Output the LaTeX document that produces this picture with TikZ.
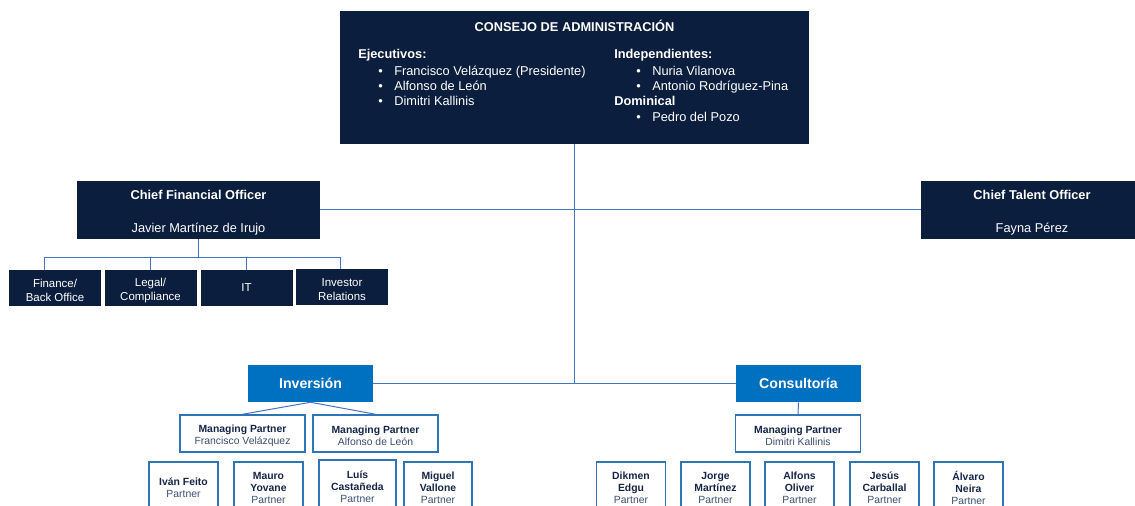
\documentclass[tikz,border=0pt]{standalone}
\usepackage{fontspec}
\setmainfont{Liberation Sans}
\usepackage{tikz}
\definecolor{navy}{RGB}{12,30,61}
\definecolor{azul}{RGB}{0,112,192}
\definecolor{marco}{RGB}{46,117,182}
\definecolor{linea}{RGB}{68,114,196}
\definecolor{tinta}{RGB}{22,37,72}
\definecolor{gris}{RGB}{60,78,112}
\newdimen\pxu \pxu=0.75pt
\newcommand{\bul}{\makebox[12pt][l]{\textbullet}}

\begin{document}
\begin{tikzpicture}[x=0.75pt,y=-0.75pt]
	\tikzstyle{navybox}=[fill=navy,text=white,inner sep=0pt,align=center,font=\fontsize{9.6}{11.5}\selectfont]
	\tikzstyle{boardtxt}=[text=white,inner sep=0pt,anchor=base west,font=\fontsize{9.6}{11.5}\selectfont]
	\tikzstyle{areabox}=[navybox,minimum width=92\pxu,minimum height=36\pxu,font=\fontsize{8.6}{10.8}\selectfont]
	\tikzstyle{unitbox}=[fill=azul,text=white,inner sep=0pt,minimum width=125\pxu,minimum height=37\pxu,font=\bfseries\fontsize{10.6}{12}\selectfont]
	\tikzstyle{mpbox}=[draw=marco,line width=1.1pt,fill=white,text=tinta,align=center,inner sep=0pt,minimum width=125\pxu,minimum height=37\pxu,font=\fontsize{7.8}{9}\selectfont]
	\tikzstyle{partbox}=[mpbox,minimum width=69\pxu,minimum height=52\pxu]
	\tikzstyle{link}=[draw=linea,line width=0.75pt]
	\useasboundingbox (0,0) rectangle (1135,506);
	\clip (0,0) rectangle (1135,506);
	% consejo
	\node[navybox,minimum width=469\pxu,minimum height=133\pxu] (board) at (574.5,77.5) {};
	\node[boardtxt,anchor=base,font=\bfseries\fontsize{9.6}{11.5}\selectfont] (titulo) at (574.5,31.5) {CONSEJO DE ADMINISTRACIÓN};
	\node[boardtxt,font=\bfseries\fontsize{9.6}{11.5}\selectfont] (ejec) at (358,59) {Ejecutivos:};
	\node[boardtxt] (ej1) at (378,76) {\bul Francisco Velázquez (Presidente)};
	\node[boardtxt] (ej2) at (378,91) {\bul Alfonso de León};
	\node[boardtxt] (ej3) at (378,106) {\bul Dimitri Kallinis};
	\node[boardtxt,font=\bfseries\fontsize{9.6}{11.5}\selectfont] (indep) at (614,59) {Independientes:};
	\node[boardtxt] (in1) at (636,76) {\bul Nuria Vilanova};
	\node[boardtxt] (in2) at (636,91) {\bul Antonio Rodríguez-Pina};
	\node[boardtxt,font=\bfseries\fontsize{9.6}{11.5}\selectfont] (domin) at (614,106) {Dominical};
	\node[boardtxt] (do1) at (636,122) {\bul Pedro del Pozo};
	% direcciones
	\node[navybox,minimum width=243\pxu,minimum height=58\pxu] (cfo) at (198.5,210) {};
	\node[boardtxt,anchor=base,font=\bfseries\fontsize{9.6}{11.5}\selectfont] (cfotit) at (198.5,199.5) {Chief Financial Officer};
	\node[boardtxt,anchor=base] (cfonom) at (198.5,232) {Javier Martínez de Irujo};
	\node[navybox,minimum width=222\pxu,minimum height=58\pxu] (cto) at (1032,210) {};
	\node[boardtxt,anchor=base,font=\bfseries\fontsize{9.6}{11.5}\selectfont] (ctotit) at (1032,199.5) {Chief Talent Officer};
	\node[boardtxt,anchor=base] (ctonom) at (1032,232) {Fayna Pérez};
	\node[areabox] (finance) at (55,288) {\rule{0pt}{10pt}Finance/\\Back Office};
	\node[areabox] (legal) at (150.5,288) {\rule{0pt}{10pt}Legal/\\Compliance};
	\node[areabox] (it) at (246.5,288) {IT};
	\node[areabox] (investor) at (342,287) {\rule{0pt}{10pt}Investor\\Relations};
	% unidades
	\node[unitbox] (inversion) at (310.5,383.5) {Inversión};
	\node[unitbox] (consultoria) at (798.5,383.5) {Consultoría};
	\node[mpbox] (mpfv) at (242.5,433.5) {\rule{0pt}{8.5pt}\textbf{Managing Partner}\\\textcolor{gris}{Francisco Velázquez}};
	\node[mpbox] (mpal) at (375.5,433.5) {\rule{0pt}{8.5pt}\textbf{Managing Partner}\\\textcolor{gris}{Alfonso de León}};
	\node[mpbox] (mpdk) at (798,433.5) {\rule{0pt}{8.5pt}\textbf{Managing Partner}\\\textcolor{gris}{Dimitri Kallinis}};
	\node[partbox] (pif) at (183.5,488) {\textbf{Iván Feito}\\\textcolor{gris}{Partner}};
	\node[partbox] (pmy) at (268.5,488) {\textbf{Mauro}\\\textbf{Yovane}\\\textcolor{gris}{Partner}};
	\node[partbox,minimum width=77\pxu,minimum height=54\pxu] (plc) at (357.5,487) {\textbf{Luís}\\\textbf{Castañeda}\\\textcolor{gris}{Partner}};
	\node[partbox,minimum width=68\pxu] (pmv) at (438,488) {\textbf{Miguel}\\\textbf{Vallone}\\\textcolor{gris}{Partner}};
	\node[partbox] (pde) at (631,488) {\textbf{Dikmen}\\\textbf{Edgu}\\\textcolor{gris}{Partner}};
	\node[partbox] (pjm) at (715.5,488) {\textbf{Jorge}\\\textbf{Martínez}\\\textcolor{gris}{Partner}};
	\node[partbox] (pao) at (799.5,488) {\textbf{Alfons}\\\textbf{Oliver}\\\textcolor{gris}{Partner}};
	\node[partbox] (pjc) at (884.5,488) {\textbf{Jesús}\\\textbf{Carballal}\\\textcolor{gris}{Partner}};
	\node[partbox] (pan) at (968.5,488) {\textbf{Álvaro}\\\textbf{Neira}\\\textcolor{gris}{Partner}};
	% conexiones
	\coordinate (busL) at (44,257);
	\coordinate (busR) at (340,257);
	\draw[link] (board.south) -- (board.south |- inversion.east);
	\draw[link] (cfo) -- (cto);
	\draw[link] (inversion) -- (consultoria);
	\draw[link] (cfo.south) -- (cfo.south |- busL);
	\draw[link] (busL) -- (busR);
	\draw[link] (busL) -- (busL |- finance.north);
	\draw[link] (legal.north |- busL) -- (legal.north);
	\draw[link] (it.north |- busL) -- (it.north);
	\draw[link] (busR) -- (busR |- investor.north);
	\draw[link] (inversion.south) -- (mpfv.north);
	\draw[link] (inversion.south) -- (mpal.north);
	\draw[link] (consultoria.south) -- (mpdk.north);
\end{tikzpicture}
\end{document}
